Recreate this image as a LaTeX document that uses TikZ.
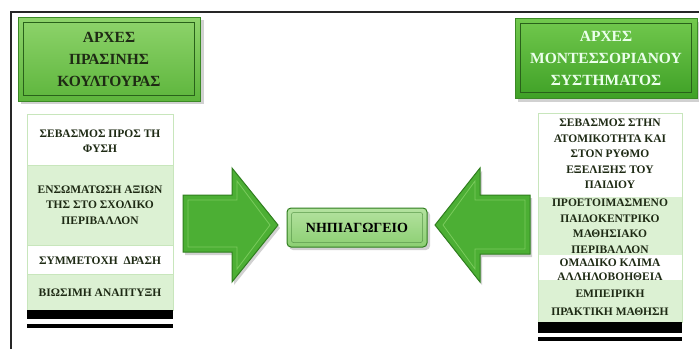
\documentclass[tikz,border=0pt]{standalone}
\usepackage{fontspec}
\setmainfont{Liberation Serif}
\usetikzlibrary{calc}
\definecolor{tgTop}{HTML}{8FD46C}
\definecolor{tgBot}{HTML}{5DB53C}
\definecolor{trTop}{HTML}{72C94E}
\definecolor{trBot}{HTML}{3FA126}
\definecolor{gEdge}{HTML}{3B8A25}
\definecolor{rowGreen}{HTML}{DCF1D3}
\definecolor{rowEdge}{HTML}{C8E6BC}
\definecolor{arrFill}{HTML}{4CAF34}
\definecolor{arrEdge}{HTML}{2F7E1E}
\definecolor{arrLight}{HTML}{7ACB5C}
\definecolor{ctrTop}{HTML}{B4E2A0}
\definecolor{ctrBot}{HTML}{8CCF72}
\definecolor{darkTxt}{HTML}{1E2A14}
\begin{document}
\begin{tikzpicture}[x=1pt,y=-1pt,
  titlebox/.style={draw=gEdge,line width=0.8pt,inner sep=0pt,align=center,
     font=\bfseries\fontsize{15.5}{22}\selectfont},
  rowtext/.style={align=center,inner sep=0pt,font=\bfseries\fontsize{11.5}{15.5}\selectfont,text=darkTxt},
  bevel/.style={draw=gEdge!70!black,line width=0.5pt},
  shadowfill/.style={fill=black,opacity=0.18},
  arrowshape/.style={fill=arrFill,draw=arrEdge,line width=1pt,line join=miter},
  arrowinner/.style={draw=arrLight,line width=0.8pt},
  blackbar/.style={fill=black}
]
\useasboundingbox (0,0) rectangle (699,349);
\fill[white] (0,0) rectangle (699,349);
% frame
\draw[line width=1.6pt,draw=black!85] (11,349) -- (11,12) -- (699,12);

% ---------- left title ----------
\fill[shadowfill] (21,20) rectangle (204,104);
\node[titlebox,top color=tgTop,bottom color=tgBot,text=darkTxt,
      minimum width=182pt,minimum height=84pt] (tl) at (109,59)
      {ΑΡΧΕΣ\\ΠΡΑΣΙΝΗΣ\\ΚΟΥΛΤΟΥΡΑΣ};
\draw[bevel] ($(tl.north west)+(6,6)$) rectangle ($(tl.south east)+(-6,-6)$);

% ---------- right title ----------
\fill[shadowfill] (518,22) rectangle (699,102);
\node[titlebox,top color=trTop,bottom color=trBot,text=white!92!green,
      minimum width=182pt,minimum height=80pt] (tr) at (606,58)
      {ΑΡΧΕΣ\\ΜΟΝΤΕΣΣΟΡΙΑΝΟΥ\\ΣΥΣΤΗΜΑΤΟΣ};
\draw[bevel] ($(tr.north west)+(6,6)$) rectangle ($(tr.south east)+(-6,-6)$);

% ---------- left table ----------
\fill[white] (27,114) rectangle (173,165);
\fill[rowGreen] (27,165) rectangle (173,245);
\fill[white] (27,245) rectangle (173,274);
\fill[rowGreen] (27,274) rectangle (173,310);
\draw[rowEdge,line width=0.6pt] (27,114) rectangle (173,310);
\draw[rowEdge,line width=0.6pt] (27,165) -- (173,165) (27,245) -- (173,245) (27,274) -- (173,274);
\fill[blackbar] (27,310) rectangle (173,319);
\fill[blackbar] (27,324) rectangle (173,328);
\node[rowtext] (l1) at (100,141) {ΣΕΒΑΣΜΟΣ ΠΡΟΣ ΤΗ\\ΦΥΣΗ};
\node[rowtext] (l2) at (100,205) {ΕΝΣΩΜΑΤΩΣΗ ΑΞΙΩΝ\\ΤΗΣ ΣΤΟ ΣΧΟΛΙΚΟ\\ΠΕΡΙΒΑΛΛΟΝ};
\node[rowtext] (l3) at (100,261) {ΣΥΜΜΕΤΟΧΗ\ \ ΔΡΑΣΗ};
\node[rowtext] (l4) at (100,293) {ΒΙΩΣΙΜΗ ΑΝΑΠΤΥΞΗ};

% ---------- right table ----------
\fill[white] (538,113) rectangle (682,197);
\fill[rowGreen] (538,197) rectangle (682,255);
\fill[white] (538,255) rectangle (682,280);
\fill[rowGreen] (538,280) rectangle (682,322);
\draw[rowEdge,line width=0.6pt] (538,113) rectangle (682,322);
\fill[blackbar] (538,322) rectangle (682,333);
\fill[blackbar] (538,337) rectangle (682,341);
\node[rowtext] (r1) at (610,154) {ΣΕΒΑΣΜΟΣ ΣΤΗΝ\\ΑΤΟΜΙΚΟΤΗΤΑ ΚΑΙ\\ΣΤΟΝ ΡΥΘΜΟ\\ΕΞΕΛΙΞΗΣ ΤΟΥ\\ΠΑΙΔΙΟΥ};
\node[rowtext] (r2) at (610,226) {ΠΡΟΕΤΟΙΜΑΣΜΕΝΟ\\ΠΑΙΔΟΚΕΝΤΡΙΚΟ\\ΜΑΘΗΣΙΑΚΟ\\ΠΕΡΙΒΑΛΛΟΝ};
\node[rowtext,font=\bfseries\fontsize{11.5}{14}\selectfont] (r3) at (610,269.5) {ΟΜΑΔΙΚΟ ΚΛΙΜΑ\\ΑΛΛΗΛΟΒΟΗΘΕΙΑ};
\node[rowtext,font=\bfseries\fontsize{11.5}{18}\selectfont] (r4) at (610,303) {ΕΜΠΕΙΡΙΚΗ\\ΠΡΑΚΤΙΚΗ ΜΑΘΗΣΗ};

% ---------- centre box ----------
\fill[shadowfill,rounded corners=4pt] (289,211) rectangle (430,250);
\node[draw=arrEdge,line width=1pt,rounded corners=4pt,top color=ctrTop,bottom color=ctrBot,
      minimum width=140pt,minimum height=39pt,inner sep=0pt,
      font=\bfseries\fontsize{14}{16}\selectfont,text=black] (ctr) at (357,227.5) {ΝΗΠΙΑΓΩΓΕΙΟ};
\draw[draw=arrEdge!80,line width=0.5pt,rounded corners=2pt]
   ($(ctr.north west)+(5,5)$) rectangle ($(ctr.south east)+(-5,-5)$);

% ---------- left arrow (pointing right) ----------
\coordinate (la1) at (183,195);
\coordinate (la2) at (232,195);
\coordinate (la3) at (232,168);
\coordinate (la4) at (278,225);
\coordinate (la5) at (232,282);
\coordinate (la6) at (232,252);
\coordinate (la7) at (183,252);
\fill[shadowfill] ($(la1)+(2,3)$) -- ($(la2)+(2,3)$) -- ($(la3)+(2,3)$) -- ($(la4)+(2,3)$)
   -- ($(la5)+(2,3)$) -- ($(la6)+(2,3)$) -- ($(la7)+(2,3)$) -- cycle;
\draw[arrowshape] (la1) -- (la2) -- (la3) -- (la4) -- (la5) -- (la6) -- (la7) -- cycle;
\draw[arrowinner] (188,200) -- (237,200) -- (237,181) -- (270,225) -- (237,269) -- (237,247) -- (188,247) -- cycle;

% ---------- right arrow (pointing left) ----------
\coordinate (ra1) at (530,195);
\coordinate (ra2) at (480,195);
\coordinate (ra3) at (480,168);
\coordinate (ra4) at (435,225);
\coordinate (ra5) at (480,282);
\coordinate (ra6) at (480,254);
\coordinate (ra7) at (530,254);
\fill[shadowfill] ($(ra1)+(2,3)$) -- ($(ra2)+(2,3)$) -- ($(ra3)+(2,3)$) -- ($(ra4)+(2,3)$)
   -- ($(ra5)+(2,3)$) -- ($(ra6)+(2,3)$) -- ($(ra7)+(2,3)$) -- cycle;
\draw[arrowshape] (ra1) -- (ra2) -- (ra3) -- (ra4) -- (ra5) -- (ra6) -- (ra7) -- cycle;
\draw[arrowinner] (525,200) -- (475,200) -- (475,181) -- (443,225) -- (475,269) -- (475,249) -- (525,249) -- cycle;
\end{tikzpicture}
\end{document}
